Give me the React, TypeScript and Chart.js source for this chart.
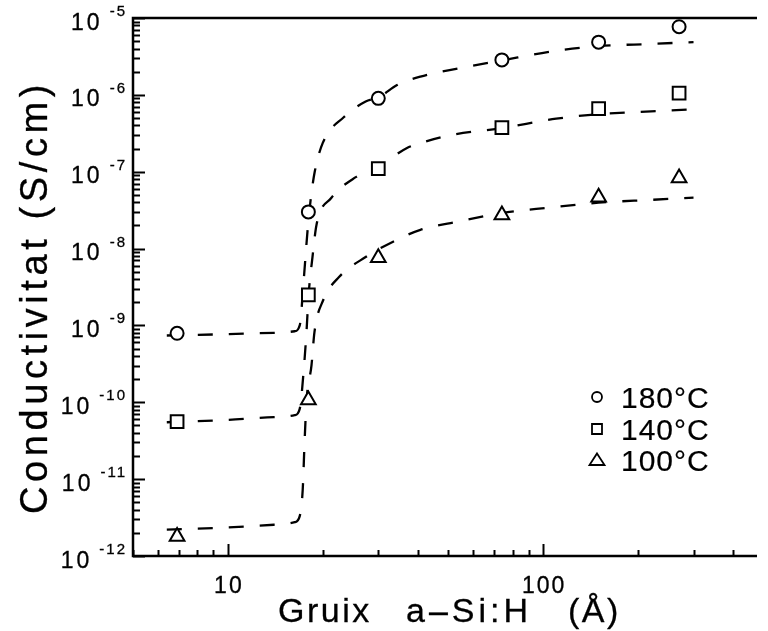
import React, { useEffect, useRef } from 'react';
import { Chart, registerables } from 'chart.js';

Chart.register(...registerables);

// Measured points: film thickness (Å) and conductivity (S/cm)
const thickness = [6.9, 18, 30, 74, 150, 270];
const cond180 = [7.9e-10, 3.0e-8, 9.0e-7, 2.85e-6, 4.85e-6, 7.7e-6];
const cond140 = [5.6e-11, 2.5e-9, 1.1e-7, 3.75e-7, 6.6e-7, 1.05e-6];
const cond100 = [1.8e-12, 1.07e-10, 7.6e-9, 2.74e-8, 4.65e-8, 8.3e-8];

// Fitted curves (dashed)
const fitX180 = [6.4, 10, 14, 16.3, 16.9, 17.4, 17.9, 18.3, 18.85, 20.0, 23.35, 27.35, 30.24, 34.4, 40.8, 54.2, 73.7, 110, 150, 220, 300];
const fitY180 = [7.4e-10, 7.7e-10, 8.0e-10, 8.4e-10, 1.0e-9, 3.9e-9, 1.75e-8, 4.3e-8, 9.9e-8, 2.37e-7, 5.15e-7, 8.2e-7, 9.4e-7, 1.34e-6, 1.73e-6, 2.22e-6, 2.8e-6, 3.75e-6, 4.3e-6, 4.6e-6, 4.85e-6];

const fitX140 = [6.4, 10, 14, 16.3, 16.9, 17.4, 17.77, 18.03, 18.55, 19.1, 21.27, 25.45, 30.24, 37, 40.8, 51, 74, 110, 150, 220, 300];
const fitY140 = [5.5e-11, 5.9e-11, 6.4e-11, 6.8e-11, 8.2e-11, 2.63e-10, 8.7e-10, 2.49e-9, 7.76e-9, 2.03e-8, 4.55e-8, 8.5e-8, 1.19e-7, 2.04e-7, 2.35e-7, 3.0e-7, 3.7e-7, 4.9e-7, 5.6e-7, 6.1e-7, 6.5e-7];

const fitX100 = [6.4, 10, 14, 16.3, 16.9, 17.27, 17.52, 17.77, 18.42, 18.82, 20.07, 22.52, 27.35, 33.3, 40.8, 54, 74, 104, 150, 220, 300];
const fitY100 = [2.2e-12, 2.35e-12, 2.55e-12, 2.75e-12, 3.3e-12, 7.2e-12, 3.24e-11, 1.07e-10, 3.05e-10, 8.2e-10, 2.14e-9, 4.27e-9, 7.76e-9, 1.22e-8, 1.75e-8, 2.25e-8, 2.9e-8, 3.4e-8, 3.95e-8, 4.3e-8, 4.6e-8];

// Axes
const xMin = 5;
const xMax = 477;
const yDecades = [-12, -11, -10, -9, -8, -7, -6, -5];
const xTickLabels = [10, 100];
const xTitleParts = ['Gruix', 'a–Si:H', '(Å)'];
const yTitle = 'Conductivitat (S/cm)';
const legendLabels = ['180°C', '140°C', '100°C'];
const legendStyles = ['circle', 'rect', 'triangle'];

const FONT = '"Liberation Sans", Arial, Helvetica, sans-serif';

function pts(xs: number[], ys: number[]) {
  return xs.map((x, i) => ({ x, y: ys[i] }));
}

function drawMarker(ctx: CanvasRenderingContext2D, style: string, cx: number, cy: number, size: number) {
  ctx.beginPath();
  if (style === 'circle') {
    ctx.arc(cx, cy, size, 0, Math.PI * 2);
  } else if (style === 'rect') {
    ctx.rect(cx - size, cy - size, size * 2, size * 2);
  } else {
    const w = size * 1.5;
    ctx.moveTo(cx, cy - size * 1.3);
    ctx.lineTo(cx + w, cy + size * 1.0);
    ctx.lineTo(cx - w, cy + size * 1.0);
    ctx.closePath();
  }
  ctx.stroke();
}

function text(ctx: CanvasRenderingContext2D, s: string, x: number, y: number, w = 0.3) {
  ctx.fillText(s, x, y);
  ctx.lineWidth = w;
  ctx.strokeText(s, x, y);
}

const decor = {
  id: 'decor',
  afterDraw(chart: any) {
    const { ctx, chartArea: a, scales } = chart;
    const x = scales.x;
    const y = scales.y;
    ctx.save();
    ctx.strokeStyle = '#000';
    ctx.fillStyle = '#000';
    ctx.setLineDash([]);

    // frame
    ctx.lineWidth = 2.5;
    ctx.lineCap = 'butt';
    ctx.beginPath();
    ctx.moveTo(a.right, a.top);
    ctx.lineTo(a.left, a.top);
    ctx.lineTo(a.left, a.bottom);
    ctx.lineTo(a.right, a.bottom);
    ctx.stroke();

    // y ticks (inside)
    ctx.lineWidth = 2;
    for (let i = 0; i < yDecades.length; i++) {
      const d = yDecades[i];
      for (let k = 1; k <= 9; k++) {
        const v = k * Math.pow(10, d);
        if (v > 1.0001e-5) continue;
        const py = Math.round(y.getPixelForValue(v)) + 0.5;
        const len = k === 1 ? 12 : 7;
        ctx.beginPath();
        ctx.moveTo(a.left, py);
        ctx.lineTo(a.left + len, py);
        ctx.stroke();
      }
    }
    // x ticks (inside)
    for (let d = 0; d <= 3; d++) {
      for (let k = 1; k <= 9; k++) {
        const v = k * Math.pow(10, d);
        if (v < xMin - 1e-9 || v > xMax) continue;
        const px = Math.round(x.getPixelForValue(v)) + 0.5;
        const len = k === 1 ? 12 : 6;
        ctx.beginPath();
        ctx.moveTo(px, a.bottom);
        ctx.lineTo(px, a.bottom - len);
        ctx.stroke();
      }
    }

    // y tick labels 10^n
    ctx.textBaseline = 'alphabetic';
    for (const d of yDecades) {
      const py = y.getPixelForValue(Math.pow(10, d));
      const exp = '-' + Math.abs(d);
      ctx.font = `15px ${FONT}`;
      (ctx as any).letterSpacing = '2px';
      const ew = ctx.measureText(exp).width - 2;
      const expLeft = a.left - 8 - ew;
      ctx.textAlign = 'left';
      text(ctx, exp, expLeft, py - 2, 0.3);
      ctx.font = `23px ${FONT}`;
      (ctx as any).letterSpacing = '3px';
      const bw = ctx.measureText('10').width - 3;
      text(ctx, '10', expLeft - 10 - bw, py + 11.5);
    }

    // x tick labels
    ctx.font = `23px ${FONT}`;
    (ctx as any).letterSpacing = '2px';
    ctx.textAlign = 'center';
    for (const v of xTickLabels) {
      const px = x.getPixelForValue(v);
      text(ctx, String(v), px + 1, 593);
    }

    // x title
    ctx.textAlign = 'left';
    ctx.font = `34px ${FONT}`;
    const partX = [278, 406, 568];
    const partLs = ['2.5px', '4px', '2.5px'];
    xTitleParts.forEach((t, i) => {
      (ctx as any).letterSpacing = partLs[i];
      text(ctx, t, partX[i], 622, 0.3);
    });

    // y title
    ctx.save();
    ctx.font = `38px ${FONT}`;
    (ctx as any).letterSpacing = '4.6px';
    ctx.translate(47, (a.top + a.bottom) / 2 + 10);
    ctx.rotate(-Math.PI / 2);
    ctx.textAlign = 'center';
    ctx.textBaseline = 'alphabetic';
    text(ctx, yTitle, 0, 0, 0.3);
    ctx.restore();

    // legend
    ctx.font = `30px ${FONT}`;
    (ctx as any).letterSpacing = '1px';
    ctx.textAlign = 'left';
    const rowY = [397, 429, 460];
    legendLabels.forEach((lab, i) => {
      ctx.lineWidth = 1.8;
      drawMarker(ctx, legendStyles[i], 597, rowY[i], 5);
      text(ctx, lab, 621, rowY[i] + 11, 0.2);
    });

    ctx.restore();
  },
};

export default function App() {
  const ref = useRef<HTMLCanvasElement | null>(null);

  useEffect(() => {
    if (!ref.current) return;
    const markerCommon = {
      showLine: false,
      borderColor: '#000',
      backgroundColor: '#fff',
      pointBorderWidth: 2,
      clip: false as any,
    };
    const fitCommon = {
      showLine: true,
      borderColor: '#000',
      borderWidth: 2.3,
      borderDash: [15, 16],
      pointRadius: 0,
      cubicInterpolationMode: 'monotone' as const,
      fill: false,
    };
    const chart = new Chart(ref.current, {
      type: 'scatter',
      data: {
        datasets: [
          { ...markerCommon, label: '180°C', data: pts(thickness, cond180), pointStyle: 'circle', pointRadius: 6.5 },
          { ...markerCommon, label: '140°C', data: pts(thickness, cond140), pointStyle: 'rect', pointRadius: 9 },
          { ...markerCommon, label: '100°C', data: pts(thickness, cond100), pointStyle: 'triangle', pointRadius: 8.5 },
          { ...fitCommon, label: 'fit 180', data: pts(fitX180, fitY180) },
          { ...fitCommon, label: 'fit 140', data: pts(fitX140, fitY140) },
          { ...fitCommon, label: 'fit 100', data: pts(fitX100, fitY100) },
        ] as any,
      },
      options: {
        animation: false,
        responsive: false,
        devicePixelRatio: 1,
        events: [],
        layout: { padding: { left: 133, top: 18, right: 0, bottom: 75 } },
        scales: {
          x: { type: 'logarithmic', min: xMin, max: xMax, display: false },
          y: { type: 'logarithmic', min: 1e-12, max: 1e-5, display: false },
        },
        plugins: { legend: { display: false }, tooltip: { enabled: false } },
      },
      plugins: [decor],
    });
    return () => chart.destroy();
  }, []);

  return (
    <div style={{ position: 'absolute', left: 0, top: 0, width: 768, height: 631, background: '#fff' }}>
      <canvas ref={ref} width={768} height={631} style={{ display: 'block', width: 768, height: 631 }} />
    </div>
  );
}
